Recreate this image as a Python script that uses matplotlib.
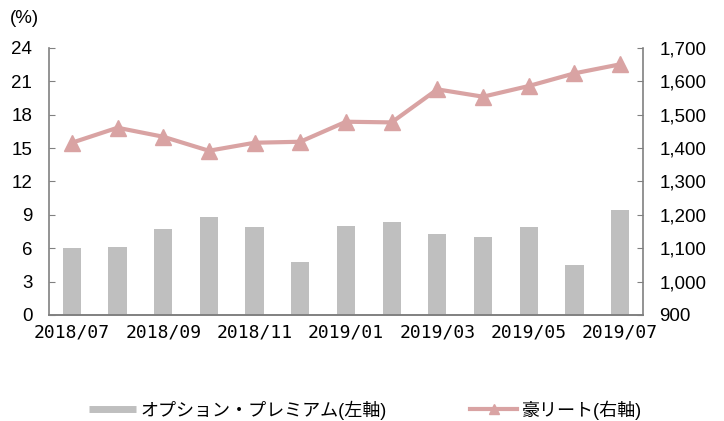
import matplotlib.pyplot as plt
from matplotlib.lines import Line2D
import numpy as np

plt.rcParams['font.family'] = ['Liberation Sans', 'Noto Sans CJK JP', 'DejaVu Sans']

months = ['2018/07', '2018/08', '2018/09', '2018/10', '2018/11', '2018/12', '2019/01',
          '2019/02', '2019/03', '2019/04', '2019/05', '2019/06', '2019/07']
premium = [6.0, 6.1, 7.7, 8.8, 7.9, 4.8, 7.95, 8.33, 7.28, 7.0, 7.88, 4.5, 9.47]
reit = [1416, 1461, 1434, 1392, 1416, 1419, 1479, 1477, 1576, 1554, 1586, 1624, 1651]
labels = ['オプション・プレミアム(左軸)', '豪リート(右軸)']

bar_color = '#bfbfbf'
line_color = '#d9a3a3'
spine_color = '#808080'


def main():
    fig = plt.figure(figsize=(7.24, 4.21), dpi=100)
    ax = fig.add_axes([0.0677, 0.252, 0.8203, 0.634])
    x = np.arange(len(months))

    ax.bar(x, premium, width=0.4, color=bar_color, zorder=1)
    ax.set_ylim(0, 24)
    ax.set_yticks(np.arange(0, 25, 3))
    ax.set_xlim(-0.5, len(months) - 0.5)
    ax.set_xticks(x[::2])
    ax.set_xticklabels(months[::2], family='DejaVu Sans Mono', fontsize=13)

    ax2 = ax.twinx()
    ax2.plot(x, reit, color=line_color, lw=3, marker='^', markersize=11, zorder=3)
    ax2.set_ylim(900, 1700)
    ax2.set_yticks(np.arange(900, 1701, 100))
    ax2.set_yticklabels([f'{v:,}' for v in range(900, 1701, 100)])

    for a in (ax, ax2):
        a.spines['top'].set_visible(False)
        for s in ('left', 'right', 'bottom'):
            a.spines[s].set_color(spine_color)
            a.spines[s].set_linewidth(1.2)
        a.tick_params(axis='y', direction='in', length=4, color=spine_color,
                      labelsize=13.5, pad=12)
    ax.tick_params(axis='x', length=0, pad=6)
    ax.spines['right'].set_visible(False)
    ax2.spines['left'].set_visible(False)

    fig.text(0.014, 0.955, '(%)', fontsize=13.5, ha='left', va='center')

    # legend proxies: thin grey band for the bars, line with a small triangle
    handles = [Line2D([], [], color=bar_color, lw=5, solid_capstyle='butt'),
               Line2D([], [], color=line_color, lw=3, marker='^', markersize=7)]
    fig.legend(handles, labels, loc='center', bbox_to_anchor=(0.505, 0.026),
               ncol=2, frameon=False, fontsize=13, handlelength=2.6,
               columnspacing=4.6, handletextpad=0.25)

    fig.savefig('out.png', dpi=100)


if __name__ == '__main__':
    main()
